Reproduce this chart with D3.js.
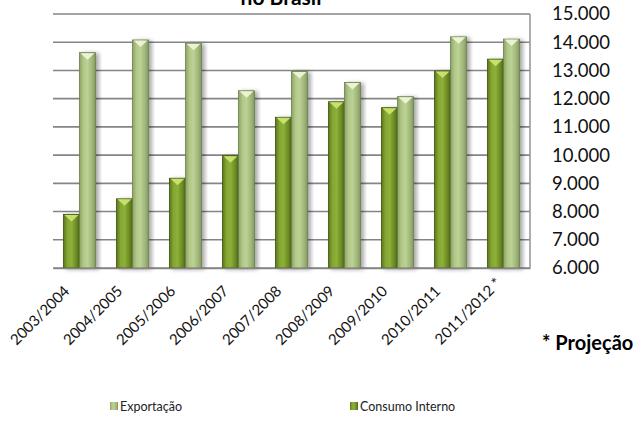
<!DOCTYPE html>
<html lang="pt">
  <head>
    <meta charset="UTF-8" />
    <title>Consumo e exportação</title>
    <style>
      body {
        margin: 0;
        background: #fff;
      }
      text {
        font-family: Lato, "Open Sans", sans-serif;
      }
    </style>
  </head>
  <body>
    <svg id="chart" width="640" height="432"></svg>
    <script src="https://cdn.jsdelivr.net/npm/d3@7"></script>
    <script>
      const safras = [
        "2003/2004", "2004/2005", "2005/2006", "2006/2007", "2007/2008",
        "2008/2009", "2009/2010", "2010/2011", "2011/2012 *",
      ];
      const consumoInterno = [7900, 8450, 9180, 9980, 11340, 11890, 11680, 12980, 13400];
      const exportacao = [13630, 14080, 13960, 12280, 12960, 12570, 12070, 14190, 14110];
      const yTicks = [6000, 7000, 8000, 9000, 10000, 11000, 12000, 13000, 14000, 15000];

      const svg = d3.select("#chart");
      const pLeft = 53, pRight = 530, pTop = 14, pBottom = 268;

      let x = d3.scaleBand().domain(safras).range([pLeft, pRight]);
      let y = d3.scaleLinear().domain([6000, 15000]).range([pBottom, pTop]);
      let fmt = (d) => d3.format(",")(d).replace(/,/g, ".");

      // gradientes das barras
      const defs = svg.append("defs");
      function cylinder(id, stops) {
        let g = defs.append("linearGradient").attr("id", id)
          .attr("x1", "0").attr("x2", "1").attr("y1", "0").attr("y2", "0");
        stops.forEach((s) => g.append("stop").attr("offset", s[0]).attr("stop-color", s[1]));
      }
      cylinder("gCons", [[0, "#5a771c"], [0.25, "#85a632"], [0.5, "#8db03a"], [0.8, "#6c8b24"], [1, "#4d6815"]]);
      cylinder("gExp", [[0, "#8ca368"], [0.25, "#b2c888"], [0.5, "#bcd194"], [0.8, "#9fb579"], [1, "#82985e"]]);
      let sh = defs.append("filter").attr("id", "shadow")
        .attr("x", "-20%").attr("y", "-10%").attr("width", "160%").attr("height", "120%");
      sh.append("feDropShadow").attr("dx", 3).attr("dy", 1)
        .attr("stdDeviation", 2).attr("flood-color", "#000").attr("flood-opacity", 0.35);

      // linhas de grade
      svg.append("g").selectAll("line").data(yTicks).join("line")
        .attr("x1", pLeft).attr("x2", pRight)
        .attr("y1", (d) => y(d)).attr("y2", (d) => y(d))
        .attr("stroke", "#858585").attr("stroke-width", 1.6);
      svg.append("line")
        .attr("x1", pRight).attr("x2", pRight).attr("y1", pTop).attr("y2", pBottom)
        .attr("stroke", "#9a9a9a").attr("stroke-width", 1.6);

      // eixo y à direita
      let yAxis = d3.axisRight(y).tickValues(yTicks).tickFormat(fmt).tickSize(0).tickPadding(0);
      let ya = svg.append("g").attr("transform", `translate(552,0)`).call(yAxis);
      ya.select(".domain").remove();
      ya.selectAll("text").attr("font-size", 18.5).attr("fill", "#111")
        .style("font-family", "Lato, sans-serif");

      // barras
      const bw = 16;
      const series = [
        { name: "Consumo Interno", values: consumoInterno, fill: "url(#gCons)", cap: "#cbe46e", edge: "#3d5210", off: -bw },
        { name: "Exportação", values: exportacao, fill: "url(#gExp)", cap: "#eef4d8", edge: "#6c7f4c", off: 0 },
      ];
      series.forEach((s) => {
        let g = svg.append("g");
        let bars = g.selectAll("g").data(safras).join("g")
          .attr("transform", (d, i) =>
            `translate(${x(d) + x.bandwidth() / 2 + s.off},${y(s.values[i])})`);
        bars.append("rect")
          .attr("width", bw)
          .attr("height", (d, i) => pBottom - y(s.values[i]))
          .attr("fill", s.fill)
          .attr("stroke", s.edge).attr("stroke-width", 0.8)
          .attr("filter", "url(#shadow)");
        bars.append("path")
          .attr("d", `M1,0.5 L${bw - 1},0.5 L${bw / 2},7 Z`)
          .attr("fill", s.cap).attr("opacity", 0.95);
      });

      // eixo x com rótulos girados
      let xa = svg.append("g").attr("transform", `translate(0,${pBottom})`)
        .call(d3.axisBottom(x).tickSize(0).tickPadding(0));
      xa.select(".domain").attr("stroke", "#858585").attr("stroke-width", 1.6);
      xa.selectAll("text")
        .attr("font-size", 15).attr("fill", "#111")
        .attr("text-anchor", "end")
        .attr("transform", "translate(-9,24) rotate(-45)")
        .attr("x", (d) => (d.endsWith("*") ? 11 : 0))
        .attr("dy", "0");

      // título (cortado no topo)
      svg.append("text").attr("x", 281).attr("y", 5)
        .attr("text-anchor", "middle").attr("font-size", 21).attr("font-weight", "bold")
        .text("no Brasil");

      svg.append("text").attr("x", 542).attr("y", 350)
        .attr("font-size", 20).attr("font-weight", "bold")
        .text("* Projeção");

      // legenda
      const legend = [
        { name: "Exportação", x: 110, fill: "url(#gExp)" },
        { name: "Consumo Interno", x: 350, fill: "url(#gCons)" },
      ];
      let lg = svg.append("g").selectAll("g").data(legend).join("g")
        .attr("transform", (d) => `translate(${d.x},402)`);
      lg.append("rect").attr("width", 8).attr("height", 8).attr("fill", (d) => d.fill);
      lg.append("text").attr("x", 10).attr("y", 8.5)
        .attr("font-size", 12.5).attr("fill", "#222").text((d) => d.name);
    </script>
  </body>
</html>
